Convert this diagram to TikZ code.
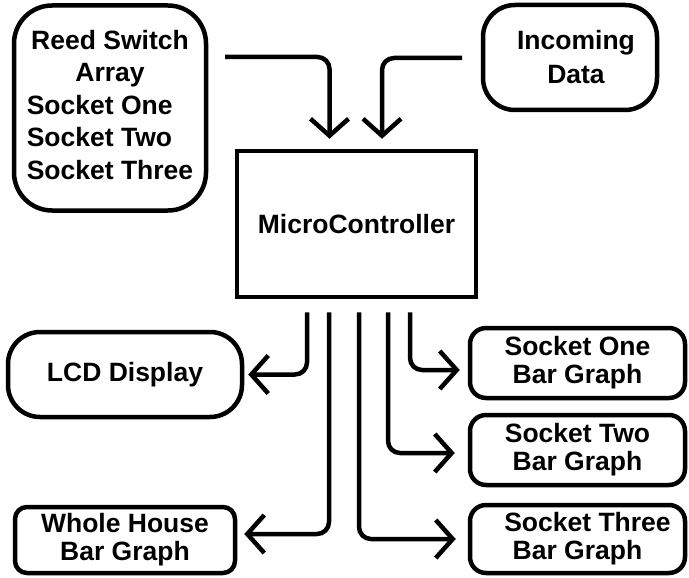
\documentclass[tikz,border=0pt]{standalone}
\usepackage{fontspec}
\setmainfont{Liberation Sans}
\usetikzlibrary{arrows.meta,calc}
\begin{document}
\begin{tikzpicture}[x=1pt,y=-1pt]
\tikzset{
  blk/.style={draw, line width=4.5pt, inner sep=0pt, align=center,
    font=\bfseries\fontsize{26.5}{33}\selectfont},
  twoline/.style={font=\bfseries\fontsize{26.5}{28}\selectfont},
  flow/.style={line width=4.5pt, rounded corners=12pt,
    -{Straight Barb[length=17pt,width=38pt]}},
}
\useasboundingbox (0,0) rectangle (689,578);

% input blocks
\node[blk, minimum width=192pt, minimum height=205pt, rounded corners=38pt,
      font=\bfseries\fontsize{26.5}{32.5}\selectfont] (reed) at (110,108)
  {\begin{tabular}{@{}l@{}}
     \multicolumn{1}{@{}c@{}}{Reed Switch}\\
     \multicolumn{1}{@{}c@{}}{Array}\\
     Socket One\\ Socket Two\\ Socket Three
   \end{tabular}};
\node[blk, minimum width=174pt, minimum height=105pt, rounded corners=32pt,
      font=\bfseries\fontsize{26.5}{34}\selectfont] (inc) at (570,57.5)
  {\hspace*{12pt}Incoming\\\hspace*{12pt}Data};

% controller
\node[blk, minimum width=239pt, minimum height=146pt] (mc) at (356.5,224)
  {MicroController};

% output blocks
\node[blk, minimum width=234pt, minimum height=85pt, rounded corners=32pt]
  (lcd) at (125,374.5) {LCD Display};
\node[blk, twoline, minimum width=220pt, minimum height=66pt, rounded corners=12pt]
  (wh) at (125,540) {Whole House\\Bar Graph};
\node[blk, twoline, minimum width=215pt, minimum height=70pt, rounded corners=16pt]
  (s1) at (577.5,363) {Socket One\\Bar Graph};
\node[blk, twoline, minimum width=215pt, minimum height=70pt, rounded corners=16pt]
  (s2) at (577.5,450) {Socket Two\\Bar Graph};
\node[blk, twoline, minimum width=215pt, minimum height=68pt, rounded corners=16pt]
  (s3) at (577.5,539) {\hspace*{20pt}Socket Three\\Bar Graph};

% incoming signal lines
\coordinate (in1) at (225,57);
\coordinate (in2) at (462,58);
\draw[flow, shorten >=10pt] (in1) -| ($(mc.north)+(-27,0)$);
\draw[flow, shorten >=10pt] (in2) -| ($(mc.north)+(25.5,0)$);

% outgoing signal lines
\draw[flow, shorten <=13pt, shorten >=4pt]
  ($(mc.south)+(-49.5,0)$) |- (lcd.east);
\draw[flow, shorten <=13pt, shorten >=7pt]
  ($(mc.south)+(-27.5,0)$) |- ($(wh.east)+(0,-6)$);
\draw[flow, shorten <=13pt, shorten >=12pt]
  ($(mc.south)+(2.5,0)$) |- (s3.west);
\draw[flow, shorten <=13pt, shorten >=13pt]
  ($(mc.south)+(31.5,0)$) |- ($(s2.west)+(0,3)$);
\draw[flow, shorten <=13pt, shorten >=8pt]
  ($(mc.south)+(53.5,0)$) |- ($(s1.west)+(0,7)$);
\end{tikzpicture}
\end{document}
